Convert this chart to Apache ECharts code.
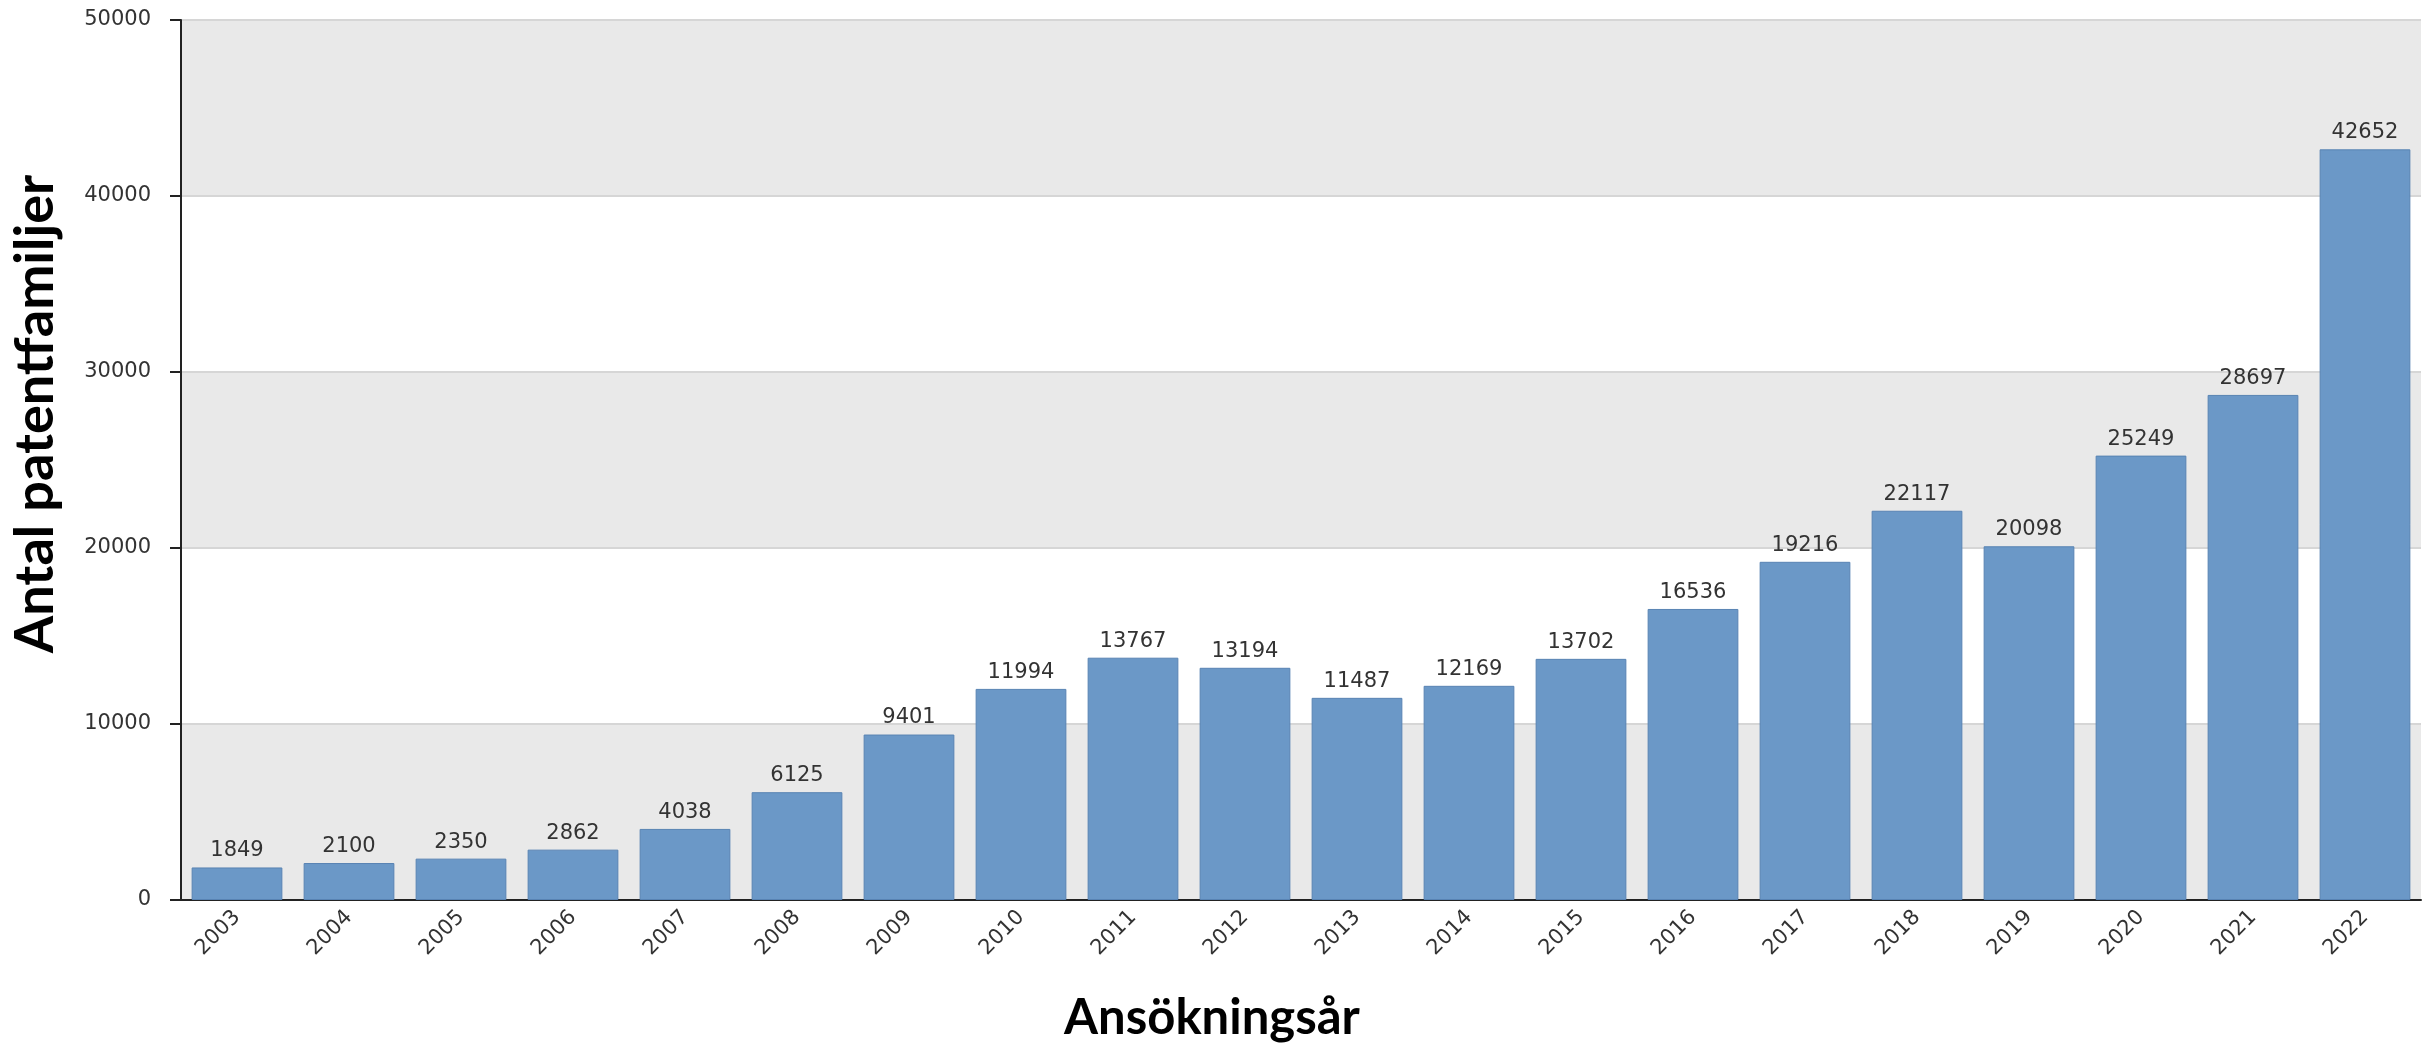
<!DOCTYPE html>
<html>
<head>
<meta charset="utf-8">
<script src="https://cdn.jsdelivr.net/npm/echarts@6/dist/echarts.min.js"></script>
<style>html,body{margin:0;padding:0;background:#fff}#c{width:2427px;height:1044px}</style>
</head>
<body>
<div id="c"></div>
<script>
const years = ['2003','2004','2005','2006','2007','2008','2009','2010','2011','2012','2013','2014','2015','2016','2017','2018','2019','2020','2021','2022'];
const families = [1849, 2100, 2350, 2862, 4038, 6125, 9401, 11994, 13767, 13194, 11487, 12169, 13702, 16536, 19216, 22117, 20098, 25249, 28697, 42652];
const yTicks = [0, 10000, 20000, 30000, 40000, 50000];
const xTitle = 'Ansökningsår';
const yTitle = 'Antal patentfamiljer';

const chart = echarts.init(document.getElementById('c'));
chart.setOption({
  animation: false,
  backgroundColor: '#ffffff',
  grid: { left: 181, right: 6, top: 20, bottom: 144, containLabel: false, outerBoundsMode: 'none' },
  graphic: [
    { type: 'text', x: 1212, y: 1018, style: { text: xTitle, fontFamily: 'Lato', fontWeight: 'bold', fontSize: 49, fill: '#000', textAlign: 'center', textVerticalAlign: 'middle' } },
    { type: 'text', x: 36, y: 414, rotation: Math.PI / 2, style: { text: yTitle, fontFamily: 'Lato', fontWeight: 'bold', fontSize: 54, fill: '#000', textAlign: 'center', textVerticalAlign: 'middle' } }
  ],
  xAxis: {
    type: 'category',
    data: years,
    axisLine: { lineStyle: { color: '#222', width: 2 } },
    axisTick: { alignWithLabel: true, length: 9, lineStyle: { color: '#222', width: 2 } },
    axisLabel: { rotate: 45, margin: 14, fontFamily: 'DejaVu Sans', fontSize: 21, color: '#333' }
  },
  yAxis: {
    type: 'value',
    min: yTicks[0],
    max: yTicks[yTicks.length - 1],
    interval: 10000,
    axisLine: { show: true, lineStyle: { color: '#222', width: 2 } },
    axisTick: { show: true, inside: false, length: 11, lineStyle: { color: '#222', width: 2 } },
    axisLabel: { margin: 30, fontFamily: 'DejaVu Sans', fontSize: 21, color: '#333', formatter: function (v) { return String(v); } },
    splitLine: { show: true, lineStyle: { color: '#d6d6d6', width: 2 } },
    splitArea: { show: true, areaStyle: { color: ['#e9e9e9', '#ffffff'] } }
  },
  series: [{
    type: 'bar',
    data: families,
    barCategoryGap: '19%',
    itemStyle: { color: '#6b98c7', borderColor: '#5883b3', borderWidth: 1 },
    label: { show: true, position: 'top', distance: 6, fontFamily: 'DejaVu Sans', fontSize: 21, color: '#333' }
  }]
});
</script>
</body>
</html>
